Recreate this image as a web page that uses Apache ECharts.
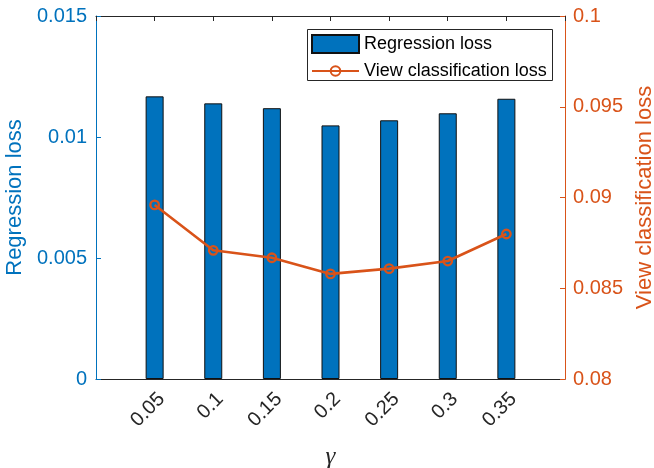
<!DOCTYPE html>
<html>
<head>
<meta charset="utf-8">
<script src="https://cdn.jsdelivr.net/npm/echarts@6/dist/echarts.min.js"></script>
<style>
html,body{margin:0;padding:0;background:#fff;overflow:hidden;}
#chart{width:654px;height:468px;}
</style>
</head>
<body>
<div id="chart"></div>
<script>
// ---- data ----
const gammaValues = [0.05, 0.1, 0.15, 0.2, 0.25, 0.3, 0.35];
const regressionLoss = [0.01168, 0.01139, 0.01119, 0.01048, 0.01069, 0.01098, 0.01158];
const viewClassLoss = [0.08959, 0.08709, 0.08668, 0.08579, 0.08608, 0.0865, 0.08799];
const leftTicks = [0, 0.005, 0.01, 0.015];
const rightTicks = [0.08, 0.085, 0.09, 0.095, 0.1];

const BLUE = '#0072BD';
const ORANGE = '#D95319';
const DARK = '#262626';
const FONT = '"Liberation Sans", Arial, Helvetica, sans-serif';

const barData = gammaValues.map((g, i) => [g, regressionLoss[i]]);
const lineData = gammaValues.map((g, i) => [g, viewClassLoss[i]]);

const chart = echarts.init(document.getElementById('chart'), null, {renderer: 'canvas'});

const xCommon = {
  type: 'value', min: 0, max: 0.4, interval: 0.05,
  splitLine: {show: false},
  axisLine: {show: true, onZero: false, lineStyle: {color: DARK, width: 1}},
  axisTick: {show: true, inside: true, length: 5, lineStyle: {color: DARK}},
};

const legendCommon = {
  orient: 'vertical', padding: 0, itemGap: 0, itemWidth: 47,
  textStyle: {fontSize: 18, color: '#000', fontFamily: FONT},
  z: 10
};

chart.setOption({
  animation: false,
  textStyle: {fontFamily: FONT},
  grid: {left: 96, right: 89, top: 16, bottom: 89, containLabel: false, outerBoundsMode: 'none'},
  graphic: [{
    type: 'rect', shape: {x: 307.5, y: 29.5, width: 245, height: 51},
    style: {fill: '#fff', stroke: DARK, lineWidth: 1}, z: 9
  }],
  legend: [
    Object.assign({}, legendCommon, {
      left: 311, top: 34, itemHeight: 18,
      data: [{name: 'Regression loss', icon: 'rect'}]
    }),
    Object.assign({}, legendCommon, {
      left: 311, top: 62, itemHeight: 12,
      data: [{name: 'View classification loss'}]
    })
  ],
  xAxis: [
    Object.assign({}, xCommon, {
      position: 'bottom',
      name: 'γ', nameLocation: 'middle', nameGap: 66,
      nameTextStyle: {fontSize: 25, color: DARK, fontFamily: '"Liberation Serif", "DejaVu Serif", serif', fontStyle: 'italic'},
      axisLabel: {
        show: true, rotate: 45, fontSize: 20, color: DARK, margin: 10,
        verticalAlign: 'top', fontFamily: FONT,
        showMinLabel: false, showMaxLabel: false,
        formatter: v => (gammaValues.some(g => Math.abs(g - v) < 1e-9) ? String(+v.toFixed(2)) : '')
      }
    }),
    Object.assign({}, xCommon, {
      position: 'top', axisLabel: {show: false}
    })
  ],
  yAxis: [
    {
      type: 'value', position: 'left',
      min: leftTicks[0], max: leftTicks[leftTicks.length - 1], interval: 0.005,
      splitLine: {show: false},
      axisLine: {show: true, onZero: false, lineStyle: {color: BLUE, width: 1}},
      axisTick: {show: true, inside: true, length: 5, lineStyle: {color: BLUE}},
      axisLabel: {color: BLUE, fontSize: 20, margin: 9, fontFamily: FONT,
        formatter: v => String(+v.toFixed(4))},
      name: 'Regression loss', nameLocation: 'middle', nameGap: 62, nameRotate: 90,
      nameTextStyle: {fontSize: 22, color: BLUE, fontFamily: FONT}
    },
    {
      type: 'value', position: 'right',
      min: rightTicks[0], max: rightTicks[rightTicks.length - 1], interval: 0.005,
      splitLine: {show: false},
      axisLine: {show: true, onZero: false, lineStyle: {color: ORANGE, width: 1}},
      axisTick: {show: true, inside: true, length: 5, lineStyle: {color: ORANGE}},
      axisLabel: {color: ORANGE, fontSize: 20, margin: 8, fontFamily: FONT,
        formatter: v => String(+v.toFixed(4))},
      name: 'View classification loss', nameLocation: 'middle', nameGap: 63, nameRotate: 90,
      nameTextStyle: {fontSize: 22, color: ORANGE, fontFamily: FONT}
    }
  ],
  series: [
    {
      name: 'Regression loss', type: 'bar', xAxisIndex: 0, yAxisIndex: 0,
      data: barData, barWidth: 18,
      itemStyle: {color: BLUE, borderColor: '#111', borderWidth: 1}
    },
    {
      name: 'View classification loss', type: 'line', xAxisIndex: 0, yAxisIndex: 1,
      data: lineData, symbol: 'circle', symbolSize: 8.5,
      lineStyle: {color: ORANGE, width: 2.6},
      itemStyle: {color: 'rgba(0,0,0,0)', borderColor: ORANGE, borderWidth: 2.3},
      z: 5
    }
  ]
});
</script>
</body>
</html>
